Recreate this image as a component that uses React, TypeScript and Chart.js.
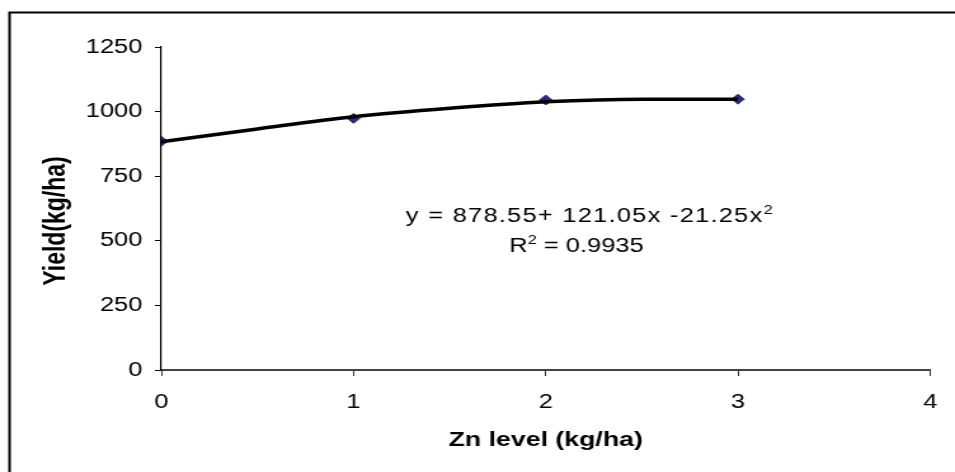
import React, { useEffect, useRef } from 'react';
import { Chart, registerables } from 'chart.js';

Chart.register(...registerables);

// ---- data ----
const znLevels = [0, 1, 2, 3];
const yieldValues = [885, 974, 1045, 1048];
const trendX = [0, 0.5, 1, 1.5, 2, 2.5, 3];
const trendY = [883, 933, 980, 1013, 1038, 1048, 1048];
const yTickValues = [0, 250, 500, 750, 1000, 1250];
const xTickValues = [0, 1, 2, 3, 4];
const xTitle = 'Zn level (kg/ha)';
const yTitle = 'Yield(kg/ha)';
const eqLine1 = 'y = 878.55+ 121.05x -21.25x';
const eqLine1Sup = '2';
const eqLine2A = 'R';
const eqLine2Sup = '2';
const eqLine2B = ' = 0.9935';

// ---- layout (unstretched canvas space, shown stretched horizontally) ----
const VIEW_W = 955;
const VIEW_H = 472;
const CW = 752;
const CH = 472;
const FONT = '"Liberation Sans", Arial, sans-serif';

const overlayPlugin = {
  id: 'overlay',
  beforeDraw(chart: any) {
    const ctx = chart.ctx;
    ctx.save();
    ctx.fillStyle = '#ffffff';
    ctx.fillRect(0, 0, chart.width, chart.height);
    ctx.strokeStyle = '#000000';
    ctx.lineWidth = 2;
    ctx.beginPath();
    ctx.moveTo(7.5, chart.height + 5);
    ctx.lineTo(7.5, 12.5);
    ctx.lineTo(chart.width + 5, 12.5);
    ctx.stroke();
    ctx.restore();
  },
  afterDraw(chart: any) {
    const ctx = chart.ctx;
    const xs = chart.scales.x;
    const ys = chart.scales.y;
    ctx.save();
    // y-axis title
    ctx.fillStyle = '#000';
    ctx.font = `bold 23px ${FONT}`;
    ctx.textAlign = 'center';
    ctx.textBaseline = 'middle';
    ctx.translate(45, 221);
    ctx.rotate(-Math.PI / 2);
    ctx.fillText(yTitle, 0, 0);
    ctx.restore();

    // equation text
    ctx.save();
    ctx.fillStyle = '#000';
    ctx.textBaseline = 'alphabetic';
    ctx.textAlign = 'left';
    const big = `20px ${FONT}`;
    const small = `13px ${FONT}`;
    // line 1
    (ctx as any).letterSpacing = '1px';
    const cx1 = xs.getPixelForValue(2.23);
    const by1 = ys.getPixelForValue(600) + 7;
    ctx.font = big;
    const w1 = ctx.measureText(eqLine1).width;
    ctx.font = small;
    const w1s = ctx.measureText(eqLine1Sup).width;
    let sx = cx1 - (w1 + w1s) / 2;
    ctx.font = big;
    ctx.fillText(eqLine1, sx, by1);
    ctx.font = small;
    ctx.fillText(eqLine1Sup, sx + w1, by1 - 8);
    (ctx as any).letterSpacing = '0px';
    // line 2
    const cx2 = xs.getPixelForValue(2.16);
    const by2 = ys.getPixelForValue(484) + 7;
    ctx.font = big;
    const wa = ctx.measureText(eqLine2A).width;
    const wb = ctx.measureText(eqLine2B).width;
    ctx.font = small;
    const ws = ctx.measureText(eqLine2Sup).width;
    sx = cx2 - (wa + ws + wb) / 2;
    ctx.font = big;
    ctx.fillText(eqLine2A, sx, by2);
    ctx.font = small;
    ctx.fillText(eqLine2Sup, sx + wa, by2 - 8);
    ctx.font = big;
    ctx.fillText(eqLine2B, sx + wa + ws, by2);
    ctx.restore();
  },
};

export default function App() {
  const ref = useRef<HTMLCanvasElement | null>(null);

  useEffect(() => {
    document.documentElement.style.overflow = 'hidden';
    document.body.style.margin = '0';
    document.body.style.overflow = 'hidden';
    if (!ref.current) return;
    const chart = new Chart(ref.current, {
      type: 'scatter',
      data: {
        datasets: [
          {
            label: 'Trend',
            type: 'line',
            data: trendX.map((x, i) => ({ x, y: trendY[i] })),
            borderColor: '#000000',
            borderWidth: 3.5,
            pointRadius: 0,
            cubicInterpolationMode: 'monotone',
            fill: false,
            order: 0,
          } as any,
          {
            label: 'Yield',
            data: znLevels.map((x, i) => ({ x, y: yieldValues[i] })),
            pointStyle: 'rectRot',
            pointRadius: 5,
            backgroundColor: '#2B2B7E',
            borderColor: '#2B2B7E',
            borderWidth: 1,
            order: 1,
          },
        ],
      },
      options: {
        responsive: false,
        animation: false,
        devicePixelRatio: 1,
        layout: { padding: { left: 0, right: 9.5, top: 47, bottom: 0 } },
        plugins: {
          legend: { display: false },
          tooltip: { enabled: false },
        },
        scales: {
          x: {
            type: 'linear',
            min: 0,
            max: 4,
            afterBuildTicks: (s: any) => {
              s.ticks = xTickValues.map((v) => ({ value: v }));
            },
            afterFit: (s: any) => {
              s.height = 102;
            },
            grid: {
              drawOnChartArea: false,
              drawTicks: true,
              tickLength: 6,
              color: '#333',
              lineWidth: 1,
            },
            border: { display: true, color: '#444', width: 2 },
            ticks: {
              color: '#000',
              padding: 14,
              font: { family: FONT, size: 20 },
              callback: (v: any) => String(v),
            },
            title: {
              display: true,
              text: xTitle,
              color: '#000',
              font: { family: FONT, size: 21, weight: 'bold' },
              padding: { top: 0, bottom: 19 },
            },
          },
          y: {
            min: 0,
            max: 1250,
            afterBuildTicks: (s: any) => {
              s.ticks = yTickValues.map((v) => ({ value: v }));
            },
            afterFit: (s: any) => {
              s.width = 127;
            },
            grid: {
              drawOnChartArea: false,
              drawTicks: true,
              tickLength: 5,
              color: '#000',
              lineWidth: 1,
            },
            border: { display: true, color: '#000', width: 1.2 },
            ticks: {
              color: '#000',
              padding: 10,
              font: { family: FONT, size: 20 },
              callback: (v: any) => String(v),
            },
          },
        },
      },
      plugins: [overlayPlugin],
    } as any);
    return () => chart.destroy();
  }, []);

  return (
    <div
      style={{
        position: 'fixed',
        left: 0,
        top: 0,
        width: VIEW_W,
        height: VIEW_H,
        overflow: 'hidden',
        background: '#fff',
      }}
    >
      <canvas
        ref={ref}
        width={CW}
        height={CH}
        style={{ display: 'block', width: `${VIEW_W}px`, height: `${VIEW_H}px` }}
      />
    </div>
  );
}
